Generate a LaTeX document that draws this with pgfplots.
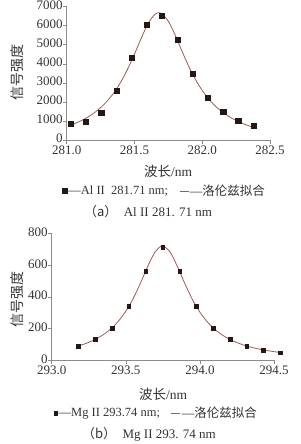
\documentclass[border=0pt]{standalone}
\usepackage{pgfplots}
\pgfplotsset{compat=1.18}
\usepackage{fontspec}
\setmainfont{Liberation Serif}
\newfontfamily\cjk{Noto Sans CJK SC}
\definecolor{mk}{HTML}{231815}
\definecolor{fit}{HTML}{A05A55}
\definecolor{axgray}{HTML}{8C8C8C}
\definecolor{txt}{HTML}{333333}
\pgfplotsset{
  mystyle/.style={
    scale only axis,
    axis x line=bottom, axis y line=left,
    axis line style={-, axgray, line width=0.6pt},
    tick style={axgray, line width=0.6pt},
    tick align=outside, major tick length=4pt,
    xtick pos=bottom, ytick pos=left,
    ticklabel style={font=\fontsize{13}{15}\selectfont, text=txt, inner sep=1pt},
    xticklabel style={yshift=-0.5pt},
    yticklabel style={xshift=1pt, yshift=1.5pt},
    clip=false,
    legend style={draw=none, fill=none, font=\fontsize{12.5}{14}\selectfont, text=txt,
      /tikz/every even column/.append style={column sep=10pt}, inner sep=0pt, nodes={inner sep=1pt}},
    legend columns=2,
  },
  markleg/.style={legend image code/.code={\draw[##1] plot coordinates {(5pt,0pt)};}},
  lineleg/.style={legend image code/.code={\draw[##1] (0pt,0pt) -- (9pt,0pt);}},
}
\begin{document}
\begin{tikzpicture}[x=1pt,y=1pt]
\useasboundingbox (0,0) rectangle (300,444);
% ---------------- top chart ----------------
\begin{axis}[mystyle,
  at={(66.7pt,304pt)}, anchor=south west,
  width=203.3pt, height=133.3pt,
  xmin=281.0, xmax=282.5, ymin=0, ymax=7000,
  xtick={281.0,281.5,282.0,282.5}, xticklabels={281.0,281.5,282.0,282.5},
  ytick={0,1000,2000,3000,4000,5000,6000,7000},
  yticklabels={0,1000,2000,3000,4000,5000,6000,7000},
  legend style={at={(0.479,-0.383)}, anchor=center},
]
\addplot[only marks, mark=square*, mark size=2.6pt, mk, mark options={fill=mk, draw=mk}, markleg] coordinates {
(281.027,840) (281.139,962) (281.254,1453) (281.366,2590) (281.478,4305)
(281.590,6037) (281.702,6545) (281.817,5285) (281.929,3500) (282.041,2240)
(282.154,1470) (282.266,1032) (282.380,735)
};
\addlegendentry{—Al II\ \ 281.71 nm;}
\addplot[fit, line width=0.8pt, smooth, no marks, lineleg] coordinates {
(281.02,740) (281.05,835) (281.10,989) (281.15,1177) (281.20,1408) (281.25,1695)
(281.30,2053) (281.35,2499) (281.40,3054) (281.45,3728) (281.50,4512)
(281.55,5348) (281.60,6110) (281.65,6598) (281.68,6685) (281.70,6646)
(281.75,6236) (281.80,5514) (281.85,4676) (281.90,3876) (281.95,3178)
(282.00,2601) (282.05,2135) (282.10,1760) (282.15,1461) (282.20,1220)
(282.25,1024) (282.30,863) (282.35,731) (282.38,663)
};
\addlegendentry{—{\cjk 洛伦兹拟合}}
\end{axis}
\node[rotate=90, text=txt, font=\cjk\fontsize{14}{16}\selectfont] at (17,371) {信号强度};
\node[text=txt, font=\fontsize{13.5}{16}\selectfont] at (168,273) {{\cjk 波长}/nm};
\node[text=txt, font=\fontsize{13}{16}\selectfont] at (148,232) {{\cjk （a）}\ \ Al II 281. 71 nm};
% ---------------- bottom chart ----------------
\begin{axis}[mystyle,
  at={(51.7pt,83.7pt)}, anchor=south west,
  width=222.3pt, height=126.6pt,
  xmin=293.0, xmax=294.5, ymin=0, ymax=800,
  xtick={293.0,293.5,294.0,294.5}, xticklabels={293.0,293.5,294.0,294.5},
  ytick={0,200,400,600,800}, yticklabels={0,200,400,600,800},
  legend style={at={(0.469,-0.416)}, anchor=center},
]
\addplot[only marks, mark=square*, mark size=1.8pt, mk, mark options={fill=mk, draw=mk}, markleg] coordinates {
(293.180,90.5) (293.293,133) (293.408,204) (293.520,341) (293.635,562)
(293.748,716) (293.863,562) (293.975,341) (294.088,204) (294.203,133)
(294.315,90.5) (294.428,65) (294.543,48)
};
\addlegendentry{—Mg II 293.74 nm;}
\addplot[fit, line width=0.8pt, smooth, no marks, lineleg] coordinates {
(293.18,90.5) (293.20,96.3) (293.25,113.4) (293.30,135.2) (293.35,163.1)
(293.40,199.4) (293.45,247.2) (293.50,309.9) (293.55,390.7) (293.60,489.8)
(293.65,597.7) (293.70,687.7) (293.748,722) (293.80,682.1) (293.85,589.4)
(293.90,481.3) (293.95,383.4) (294.00,304.1) (294.05,242.9) (294.10,196.2)
(294.15,160.6) (294.20,133.2) (294.25,111.9) (294.30,95.1) (294.35,81.7)
(294.40,70.8) (294.45,61.9) (294.50,54.6) (294.543,49.2)
};
\addlegendentry{—{\cjk 洛伦兹拟合}}
\end{axis}
\node[rotate=90, text=txt, font=\cjk\fontsize{14}{16}\selectfont] at (17,144) {信号强度};
\node[text=txt, font=\fontsize{13.5}{16}\selectfont] at (163,50) {{\cjk 波长}/nm};
\node[text=txt, font=\fontsize{13}{16}\selectfont] at (149,10) {{\cjk （b）}\ \ Mg II 293. 74 nm};
\end{tikzpicture}
\end{document}
